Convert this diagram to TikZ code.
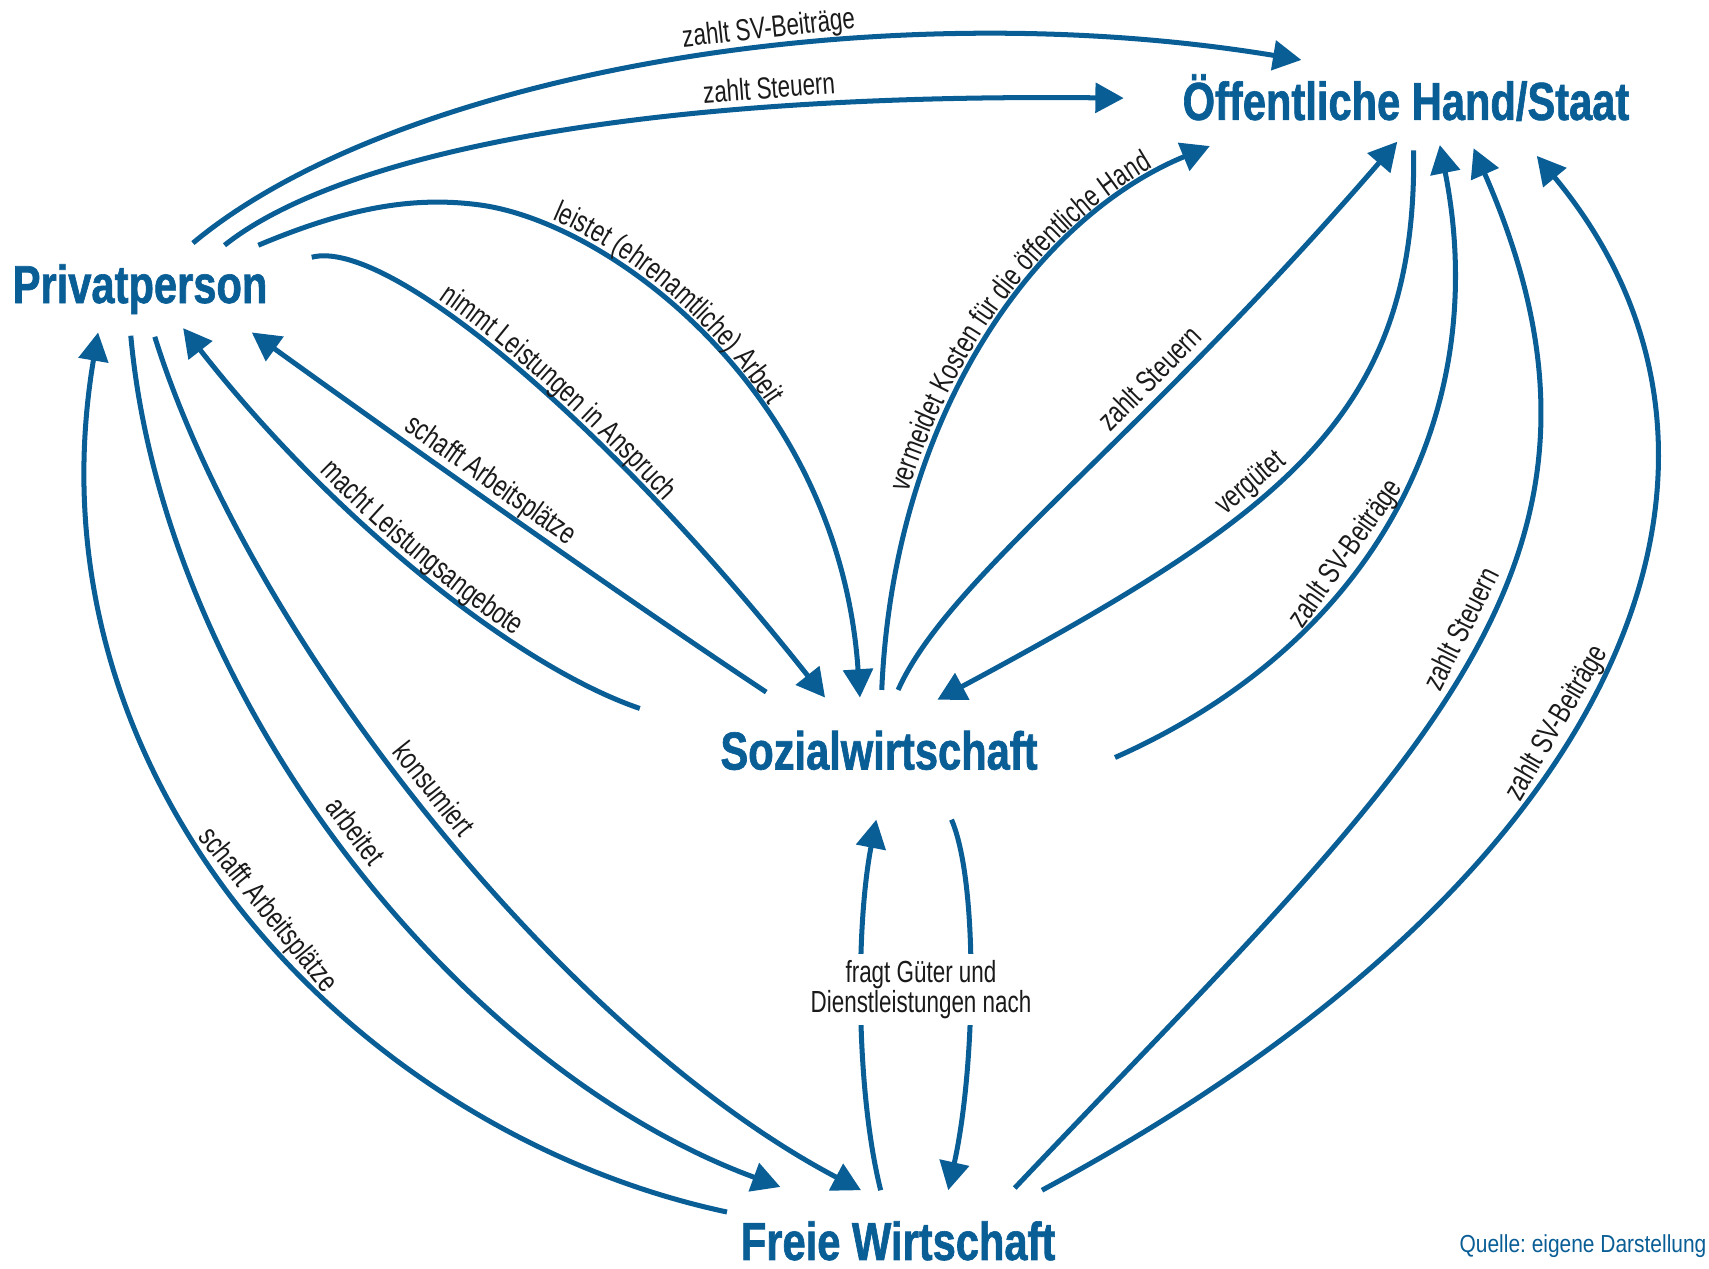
\documentclass[tikz,border=0pt]{standalone}
\usepackage{fontspec}
\setmainfont{Liberation Sans}
\newfontfamily\labfam[FakeStretch=0.735]{Liberation Sans}
\newfontfamily\titlefam[FakeStretch=0.78,FakeBold=1.2]{Liberation Sans}
\newfontfamily\srcfam[FakeStretch=0.85]{Liberation Sans}
\usetikzlibrary{arrows.meta,decorations.text}
\definecolor{dblue}{HTML}{0A5E96}
\definecolor{labcol}{HTML}{1A1A1A}
\frenchspacing
\newcommand\labfont{\labfam\fontsize{14}{13.5}\selectfont}
\newcommand\titlefont{\titlefam\bfseries\fontsize{24.5}{26}\selectfont}
\newcommand\srcfont{\srcfam\fontsize{11.3}{12}\selectfont}
\begin{document}
\begin{tikzpicture}[x=0.5pt,y=-0.5pt,
  arr/.style={draw=dblue, line width=2.3pt, -{Triangle[length=13pt,width=13.5pt]}},
  arrs/.style={draw=dblue, line width=2.3pt, {Triangle[length=13pt,width=13.5pt]}-},
  lab/.style={font=\labfont, text=labcol, inner sep=0.6pt, text height=10.3pt, text depth=2.6pt},
  title/.style={font=\titlefont, text=dblue, inner sep=0pt, anchor=base},
  curvtext/.style 2 args={postaction={decorate,decoration={text along path,
      text={|\labfont\color{labcol}|#1}, text align={left indent=#2}, raise=3pt}}}
]
\useasboundingbox (0,0) rectangle (1568,1164);

% main nodes
\node[title] (pp) at (128.5,278) {Privatperson};
\node[title] (st) at (1290,110) {Öffentliche Hand/Staat};
\node[title] (sw) at (806.5,706) {Sozialwirtschaft};
\node[title] (fw) at (824,1156) {Freie Wirtschaft};
\node[font=\srcfont, text=dblue, inner sep=0pt, anchor=base east] (src) at (1566,1149) {Quelle: eigene Darstellung};

% connector ends
\coordinate (pA) at (177,223);
\coordinate (pB) at (206,225);
\coordinate (pC) at (237,225);
\coordinate (pD) at (286,236);
\coordinate (pE) at (231,305);
\coordinate (pF) at (168,301);
\coordinate (pG) at (90,305);
\coordinate (pH) at (120,308);
\coordinate (pI) at (142,309);

\coordinate (stA) at (1194,55);
\coordinate (stB) at (1031,90);
\coordinate (stC) at (1110,134);
\coordinate (stD) at (1282,130);
\coordinate (stE) at (1297,138);
\coordinate (stF) at (1321,133);
\coordinate (stG) at (1352,136);
\coordinate (stH) at (1410,143);

\coordinate (swA) at (789,640);
\coordinate (swB) at (757,640);
\coordinate (swC) at (703,635);
\coordinate (swD) at (587,650);
\coordinate (swE) at (809,633);
\coordinate (swF) at (824,633);
\coordinate (swG) at (860,642);
\coordinate (swH) at (1023,695);
\coordinate (swI) at (804,752);
\coordinate (swJ) at (873,752);

\coordinate (fwA) at (667,1112);
\coordinate (fwB) at (716,1089);
\coordinate (fwC) at (790,1092);
\coordinate (fwD) at (808,1092);
\coordinate (fwE) at (870,1092);
\coordinate (fwF) at (931,1090);
\coordinate (fwG) at (956,1092);

% Privatperson -> Staat
\draw[arr] (pA) .. controls (360,70) and (800,-10) .. (stA)
  node[lab,sloped,above,pos=0.59] (l1) {zahlt SV-Beiträge};
\draw[arr] (pB) .. controls (300,150) and (550,85) .. (stB)
  node[lab,sloped,above,pos=0.745] (l2) {zahlt Steuern};

% Privatperson <-> Sozialwirtschaft
\draw[arr, curvtext={leistet (ehrenamtliche) Arbeit}{138pt}]
  (pC) .. controls (320,190) and (380,180) .. (440,188)
       .. controls (560,204) and (770,360) .. (swA);
\draw[arr, curvtext={nimmt Leistungen in Anspruch}{62pt}]
  (pD) .. controls (355,218) and (555,385) .. (swB);
\draw[arr] (swC) .. controls (560,540) and (370,405) .. (pE)
  node[lab,sloped,above,pos=0.55] (l5) {schafft Arbeitsplätze};
\draw[arrs, curvtext={macht Leistungsangebote}{91pt}]
  (pF) .. controls (300,470) and (470,610) .. (swD);

% Privatperson <-> Freie Wirtschaft
\draw[arr] (fwA) .. controls (330,1040) and (20,720) .. (pG)
  node[lab,sloped,above,pos=0.49] (l7) {schafft Arbeitsplätze};
\draw[arr] (pH) .. controls (150,640) and (420,980) .. (fwB)
  node[lab,sloped,above,pos=0.49] (l8) {arbeitet};
\draw[arr] (pI) .. controls (230,590) and (520,950) .. (fwC)
  node[lab,sloped,above,pos=0.48] (l9) {konsumiert};

% Sozialwirtschaft <-> Staat
\draw[arr, curvtext={vermeidet Kosten für die öffentliche Hand}{91pt}]
  (swE) .. controls (820,380) and (950,200) .. (stC);
\draw[arr] (swF) .. controls (870,530) and (1040,410) .. (stD)
  node[lab,sloped,above,pos=0.67] (l11) {zahlt Steuern};
\draw[arr] (stE) .. controls (1300,380) and (1180,470) .. (swG)
  node[lab,sloped,above,pos=0.59] (l12) {vergütet};
\draw[arr] (swH) .. controls (1260,590) and (1370,380) .. (stF)
  node[lab,sloped,above,pos=0.41] (l13) {zahlt SV-Beiträge};

% Freie Wirtschaft -> Staat
\draw[arr] (fwF) .. controls (1300,700) and (1520,520) .. (stG)
  node[lab,sloped,above,pos=0.53] (l14) {zahlt Steuern};
\draw[arr] (fwG) .. controls (1500,800) and (1640,420) .. (stH)
  node[lab,sloped,above,pos=0.44] (l15) {zahlt SV-Beiträge};

% Freie Wirtschaft <-> Sozialwirtschaft
\draw[arr] (fwD) .. controls (785,1000) and (785,850) .. (swI);
\draw[arr] (swJ) .. controls (898,810) and (895,980) .. (fwE);
\node[lab, fill=white, align=center, inner sep=3pt, text height=, text depth=] (l16) at (845,908)
  {fragt Güter und\\Dienstleistungen nach};
\end{tikzpicture}
\end{document}
